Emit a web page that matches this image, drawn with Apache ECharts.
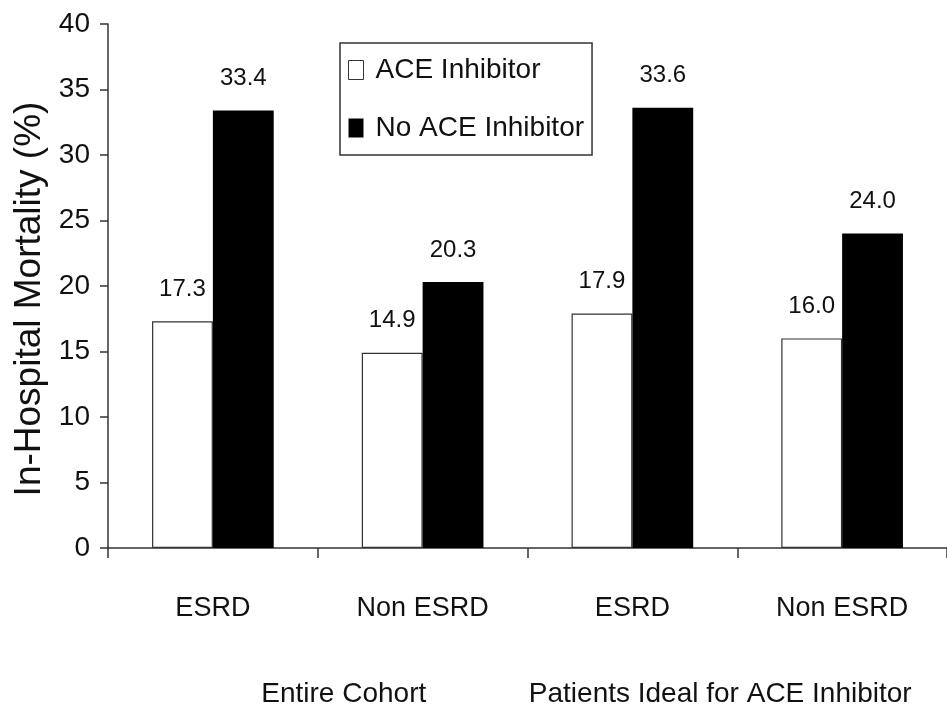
<!DOCTYPE html>
<html>
<head>
<meta charset="utf-8">
<script src="https://cdn.jsdelivr.net/npm/echarts@6/dist/echarts.min.js"></script>
<style>
  html, body { margin: 0; padding: 0; background: #fff; }
  #chart { width: 947px; height: 714px; }
</style>
</head>
<body>
<div id="chart"></div>
<script>
// Subgroup categories along the x axis
const categories = ['ESRD', 'Non ESRD', 'ESRD', 'Non ESRD'];
// Cohort group labels, each spanning two subgroups
const groups = ['Entire Cohort', 'Patients Ideal for ACE Inhibitor'];
// In-hospital mortality (%)
const aceInhibitor = [17.3, 14.9, 17.9, 16.0];
const noAceInhibitor = [33.4, 20.3, 33.6, 24.0];
// Y axis range
const yMin = 0, yMax = 40, yStep = 5;

const FONT = "'Liberation Sans', Arial, Helvetica, sans-serif";
const INK = '#111';
const AXIS = '#333';

// horizontal nudge of each group caption (padding left/right in px)
const groupPadding = [[0, 0, 0, 52], [0, 34, 0, 0]];

const chart = echarts.init(document.getElementById('chart'));

const barLabel = {
  show: true,
  position: 'top',
  distance: 20,
  fontFamily: FONT,
  fontSize: 24,
  color: INK,
  formatter: p => p.value.toFixed(1)
};

chart.setOption({
  animation: false,
  backgroundColor: '#fff',
  grid: { left: 108, right: -7, top: 24, bottom: 166, containLabel: false },
  legend: {
    orient: 'vertical',
    left: 340,
    top: 43,
    padding: [13, 8, 13, 8],
    borderColor: AXIS,
    borderWidth: 1.5,
    itemWidth: 15,
    itemHeight: 19,
    itemGap: 30,
    icon: 'rect',
    textStyle: { fontFamily: FONT, fontSize: 28, color: INK, padding: [0, 0, 0, 7] },
    data: [
      { name: 'ACE Inhibitor', itemStyle: { color: '#fff', borderColor: AXIS, borderWidth: 1 } },
      { name: 'No ACE Inhibitor', itemStyle: { color: '#000' } }
    ]
  },
  xAxis: [
    {
      type: 'category',
      data: categories,
      axisLine: { lineStyle: { color: AXIS, width: 1.5 } },
      axisTick: { show: true, length: 10, lineStyle: { color: AXIS, width: 1.5 } },
      axisLabel: { fontFamily: FONT, fontSize: 27, color: INK, margin: 47, interval: 0 },
      splitLine: { show: false }
    },
    {
      type: 'category',
      data: groups.map((g, i) => ({ value: g, textStyle: { padding: groupPadding[i] } })),
      position: 'bottom',
      axisLine: { show: false },
      axisTick: { show: false },
      axisLabel: { fontFamily: FONT, fontSize: 28, color: INK, margin: 132, interval: 0 },
      splitLine: { show: false }
    }
  ],
  yAxis: {
    type: 'value',
    min: yMin,
    max: yMax,
    interval: yStep,
    name: 'In-Hospital Mortality (%)',
    nameLocation: 'middle',
    nameGap: 60,
    nameRotate: 90,
    nameTextStyle: { fontFamily: FONT, fontSize: 37, color: INK, padding: [0, 26, 0, 0] },
    axisLine: { show: true, lineStyle: { color: AXIS, width: 1.5 } },
    axisTick: { show: true, length: 8, lineStyle: { color: AXIS, width: 1.5 } },
    axisLabel: { fontFamily: FONT, fontSize: 28, color: INK, margin: 18 },
    splitLine: { show: false }
  },
  series: [
    {
      name: 'ACE Inhibitor',
      type: 'bar',
      xAxisIndex: 0,
      data: aceInhibitor,
      barGap: '0%',
      barCategoryGap: '42%',
      itemStyle: { color: '#fff', borderColor: AXIS, borderWidth: 1.2 },
      label: barLabel
    },
    {
      name: 'No ACE Inhibitor',
      type: 'bar',
      xAxisIndex: 0,
      data: noAceInhibitor,
      barGap: '0%',
      barCategoryGap: '42%',
      itemStyle: { color: '#000' },
      label: barLabel
    }
  ]
});
</script>
</body>
</html>
